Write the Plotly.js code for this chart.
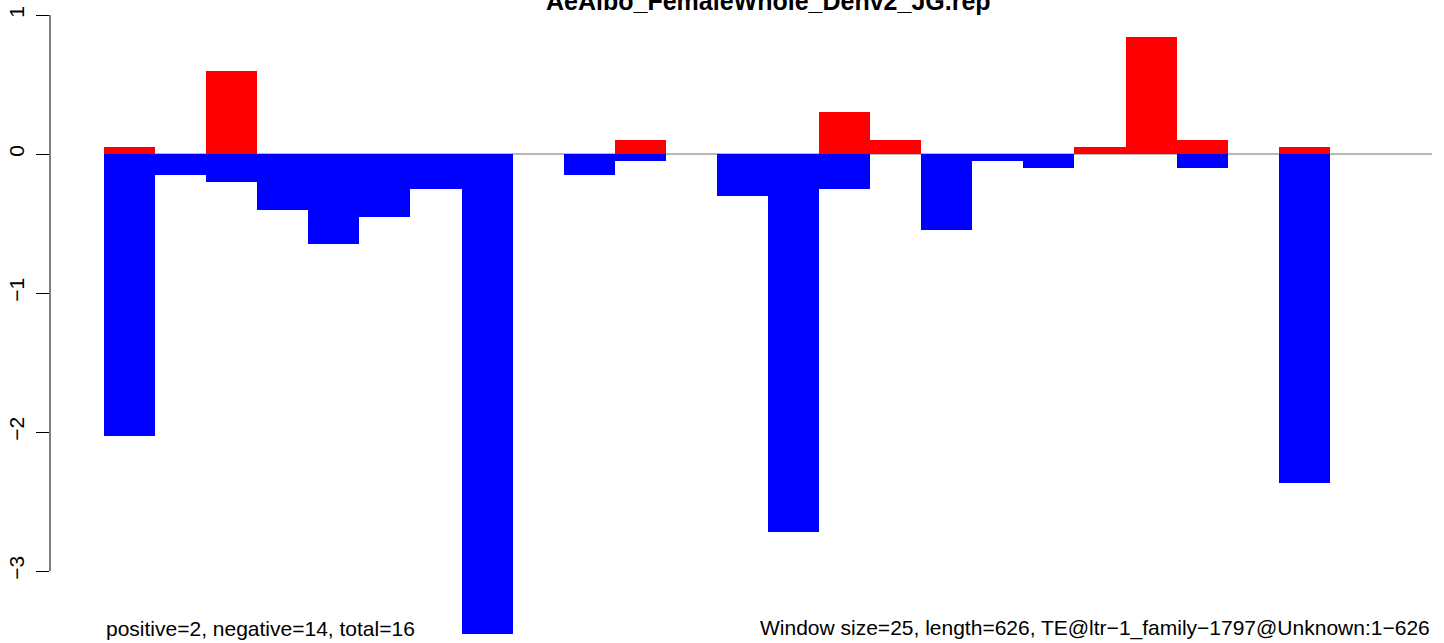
<!DOCTYPE html>
<html>
<head>
<meta charset="utf-8">
<script src="https://cdn.plot.ly/plotly-3.0.1.min.js"></script>
<style>html,body{margin:0;padding:0;background:#fff;}#chart{width:1444px;height:643px;}</style>
</head>
<body>
<div id="chart"></div>
<script>
// Data (one value per 25-bp window, 26 windows)
var binIndex = [0,1,2,3,4,5,6,7,8,9,10,11,12,13,14,15,16,17,18,19,20,21,22,23,24,25];
var positiveValues = [0.05,null,0.6,null,null,null,null,null,null,null,0.1,null,null,null,0.3,0.1,null,null,null,0.05,0.84,0.1,null,0.05,null,null];
var negativeValues = [-2.03,-0.15,-0.2,-0.4,-0.65,-0.45,-0.25,-3.45,null,-0.15,-0.05,null,-0.3,-2.72,-0.25,null,-0.55,-0.05,-0.1,null,null,-0.1,null,-2.37,null,null];
var yTickValues = [-3,-2,-1,0,1];
var yTickLabels = ['\u22123','\u22122','\u22121','0','1'];
var titleText = 'AeAlbo_FemaleWhole_Denv2_JG.rep';
var leftNote = 'positive=2, negative=14, total=16';
var rightNote = 'Window size=25, length=626, TE@ltr\u22121_family\u22121797@Unknown:1\u2212626';

var nBins = binIndex.length;
var xCenters = binIndex.map(function(i){ return i + 0.5; });
var FONT = 'Liberation Sans, Arial, Helvetica, sans-serif';

var traces = [
  {type:'bar', x:xCenters, y:positiveValues, width:1, marker:{color:'#ff0000', line:{width:0}}, hoverinfo:'y', showlegend:false},
  {type:'bar', x:xCenters, y:negativeValues, width:1, marker:{color:'#0000ff', line:{width:0}}, hoverinfo:'y', showlegend:false}
];

var pxPerUnit = 1328 / nBins;
var layout = {
  width:1444, height:643,
  margin:{l:50, r:4, t:10, b:3, pad:0},
  paper_bgcolor:'#ffffff', plot_bgcolor:'#ffffff',
  barmode:'overlay', bargap:0,
  showlegend:false,
  font:{family:FONT, size:21, color:'#000'},
  xaxis:{range:[(50-104)/pxPerUnit, (1440-104)/pxPerUnit], showgrid:false, zeroline:false, showline:false, showticklabels:false, ticks:'', fixedrange:true},
  yaxis:{range:[-3 - 69/139, 1 + 5/139], showgrid:false, zeroline:false, showline:false,
         tickmode:'array', tickvals:yTickValues, ticktext:yTickLabels,
         ticks:'outside', ticklen:13, tickwidth:1, tickcolor:'#000', tickangle:-90,
         tickfont:{family:FONT, size:21, color:'#000'}, ticklabelstandoff:4, fixedrange:true},
  shapes:[
    {type:'line', xref:'x', yref:'y', x0:0, x1:nBins, y0:0, y1:0, line:{color:'#a0a0a0', width:1.3}, layer:'below'},
    {type:'line', xref:'paper', yref:'y', x0:0, x1:0, y0:yTickValues[0], y1:yTickValues[yTickValues.length-1], line:{color:'#000', width:1}, layer:'above'}
  ],
  annotations:[
    {text:'<b>'+titleText+'</b>', xref:'x', yref:'paper', x:nBins/2, y:(640-1)/630, xanchor:'center', yanchor:'middle', showarrow:false, font:{family:FONT, size:25, color:'#000'}},
    {text:leftNote, xref:'x', yref:'paper', x:0, y:(640-628)/630, xanchor:'left', yanchor:'middle', showarrow:false, font:{family:FONT, size:21, color:'#000'}},
    {text:rightNote, xref:'x', yref:'paper', x:nBins, y:(640-628)/630, xanchor:'right', yanchor:'middle', showarrow:false, font:{family:FONT, size:21, color:'#000'}}
  ]
};

Plotly.newPlot('chart', traces, layout, {displayModeBar:false, staticPlot:true});
</script>
</body>
</html>
